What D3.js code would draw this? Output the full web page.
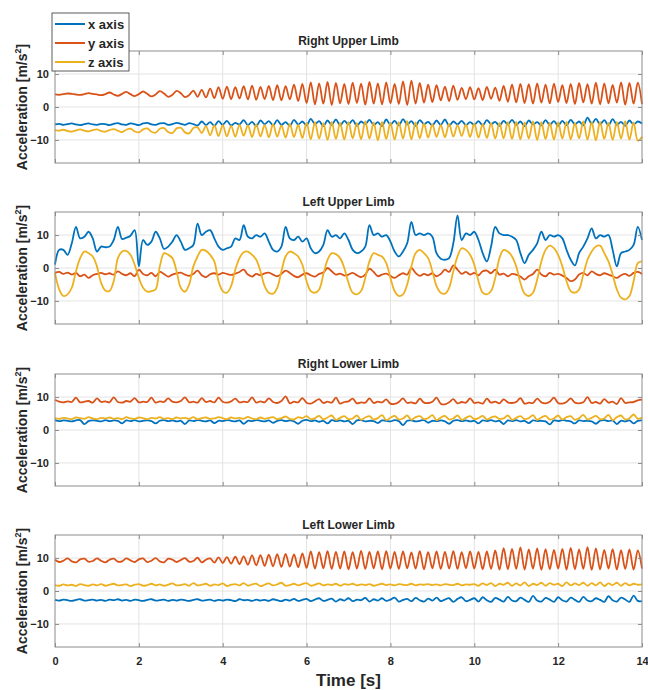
<!DOCTYPE html>
<html><head><meta charset="utf-8">
<script src="https://cdn.jsdelivr.net/npm/d3@7"></script>
<style>
body{margin:0;background:#fff}
svg{display:block}
text{font-family:"Liberation Sans",Arial,sans-serif;font-weight:bold;fill:#262626}
</style>
</head><body><svg id="chart" width="648" height="690"></svg>
<script>
// ---------- data ----------
const timeStep = 0.1;            // seconds between samples
const xTickValues = [0,2,4,6,8,10,12,14];
const yTickValues = [-10,0,10];
const yDomain = [-17,17];
const panelTitles = ["Right Upper Limb","Left Upper Limb","Right Lower Limb","Left Lower Limb"];
const seriesNames = ["x axis","y axis","z axis"];
const seriesColors = ["#0072BD","#D95319","#EDB120"];

// Right Upper Limb
const ruX = [-5.3,-5.1,-5.4,-5.2,-5.0,-5.3,-5.5,-5.2,-5.0,-5.3,
 -5.4,-5.1,-5.2,-5.5,-5.1,-4.9,-5.3,-5.4,-5.0,-5.2,
 -5.5,-5.0,-4.8,-5.3,-5.4,-5.0,-4.9,-5.4,-5.2,-4.8,
 -5.1,-5.4,-4.9,-5.2,-5.6,-4.4,-5.5,-4.6,-5.7,-4.3,
 -5.4,-4.2,-5.6,-4.8,-5.3,-4.0,-5.5,-4.5,-5.8,-4.1,
 -5.2,-4.3,-5.6,-4.0,-5.4,-4.6,-5.7,-3.9,-5.3,-4.4,
 -5.6,-3.6,-5.2,-4.3,-5.8,-4.1,-5.4,-3.8,-5.6,-4.2,
 -5.3,-4.0,-5.7,-4.4,-5.2,-3.9,-5.5,-4.6,-5.8,-3.8,
 -5.4,-4.2,-5.6,-3.7,-5.3,-4.3,-5.7,-4.0,-5.2,-4.5,
 -5.6,-4.1,-5.4,-3.8,-5.7,-4.4,-5.3,-4.2,-5.5,-4.6,
 -5.4,-4.3,-5.6,-4.0,-5.2,-4.5,-5.7,-4.2,-5.3,-3.9,
 -5.5,-4.4,-5.8,-4.1,-5.3,-4.6,-5.6,-4.0,-5.4,-4.3,
 -5.7,-4.2,-5.5,-3.9,-5.2,-4.4,-5.6,-3.2,-5.1,-3.6,
 -5.3,-4.0,-5.6,-3.7,-5.4,-4.5,-5.7,-4.1,-5.3,-4.4,
 -5.0];
const ruY = [3.8,3.7,3.9,4.1,4.0,3.8,3.7,3.9,4.2,4.0,
 3.8,3.6,3.9,4.4,3.8,3.4,4.0,4.6,3.9,3.3,
 3.9,4.7,4.0,3.2,3.8,4.8,4.1,3.1,3.7,4.9,
 4.2,3.0,3.6,5.0,3.1,5.2,2.9,5.6,2.7,6.0,
 2.5,6.2,2.4,6.0,2.6,6.3,2.3,6.5,2.2,6.1,
 2.4,6.4,2.1,6.6,2.0,6.3,2.3,6.8,1.8,7.0,
 1.2,7.5,0.8,7.2,1.0,7.6,0.6,7.3,1.1,7.0,
 0.9,7.4,1.2,7.1,0.7,7.6,1.0,7.2,0.8,7.5,
 1.1,7.0,0.9,7.8,0.6,8.0,1.0,7.3,1.3,6.8,
 1.5,6.6,2.0,6.2,1.8,6.5,2.2,5.8,2.4,6.0,
 2.3,5.7,2.1,6.1,2.5,5.9,1.9,6.4,1.6,6.8,
 1.4,7.0,1.2,6.9,1.0,7.2,1.3,6.8,1.1,7.1,
 1.5,6.6,1.2,7.0,0.9,7.3,1.4,6.9,1.0,7.4,
 0.8,7.2,1.1,6.7,1.3,7.5,0.7,7.3,1.0,7.4,
 0.9];
const ruZ = [-7.0,-7.2,-6.9,-7.3,-7.5,-7.1,-6.8,-7.2,-7.4,-7.0,
 -6.8,-7.3,-7.5,-7.0,-6.7,-7.2,-7.6,-6.9,-6.6,-7.4,
 -7.7,-6.8,-6.5,-7.5,-7.8,-6.6,-6.4,-7.6,-7.9,-6.5,
 -6.3,-7.7,-8.0,-6.4,-6.2,-7.9,-5.8,-8.6,-5.6,-8.8,
 -5.5,-8.9,-5.7,-9.0,-5.4,-8.7,-5.6,-9.1,-5.3,-8.9,
 -5.5,-9.2,-5.2,-9.0,-5.6,-9.3,-5.1,-9.1,-5.4,-9.4,
 -4.8,-9.8,-4.6,-9.6,-4.9,-10.0,-4.5,-9.7,-4.8,-9.9,
 -4.6,-9.5,-4.9,-9.8,-4.4,-9.6,-4.7,-10.1,-4.5,-9.7,
 -4.8,-9.9,-4.6,-9.6,-4.3,-9.8,-4.7,-9.5,-5.0,-9.3,
 -5.2,-9.1,-5.4,-9.2,-5.1,-9.0,-5.5,-8.8,-5.3,-9.1,
 -5.0,-9.3,-5.2,-9.4,-4.9,-9.6,-4.8,-9.5,-4.6,-9.7,
 -4.5,-9.8,-4.7,-9.6,-4.4,-10.0,-4.6,-9.7,-4.8,-9.9,
 -4.7,-9.6,-4.5,-9.8,-4.9,-9.5,-4.4,-9.9,-4.6,-10.1,
 -4.5,-9.7,-4.8,-10.0,-4.6,-9.6,-4.3,-9.9,-4.7,-10.2,
 -9.0];

// Left Upper Limb
const luX = [1.0,5.5,5.5,4.0,7.5,12.5,9.0,9.5,11.0,9.0,
 5.0,6.5,6.3,6.5,8.5,12.5,8.8,9.2,9.8,11.5,
 0.5,8.5,7.0,8.0,11.0,9.0,5.8,6.5,8.0,10.0,
 8.0,5.5,6.0,7.0,13.5,10.0,11.0,11.5,9.0,6.5,
 5.5,6.0,6.5,9.0,8.5,13.0,9.5,9.0,10.0,9.5,
 10.5,8.0,5.5,5.0,6.5,12.5,9.0,8.5,9.5,8.0,
 9.0,6.0,4.5,5.0,7.0,11.5,9.5,10.0,9.0,10.5,
 8.5,5.5,4.5,5.0,6.5,13.0,10.0,10.5,9.5,10.0,
 8.0,5.0,3.5,5.0,7.5,14.0,10.0,10.5,10.0,10.5,
 9.5,4.5,2.8,2.5,3.0,7.5,16.0,8.5,10.5,10.0,
 11.0,8.5,4.5,2.0,6.5,12.5,10.5,10.0,10.0,9.5,
 8.5,4.5,1.5,4.0,5.5,7.5,11.0,8.5,10.0,9.5,
 10.0,9.0,5.5,2.5,0.8,4.5,6.5,9.0,12.0,9.0,
 10.0,9.5,10.0,5.5,0.5,4.5,5.0,5.5,7.0,12.5,
 8.5];
const luY = [-1.5,-1.2,-1.8,-1.4,-2.0,-1.5,-2.5,-2.0,-3.0,-2.2,
 -1.8,-1.5,-1.9,-1.6,-2.0,-1.0,-1.8,-2.2,-1.6,-2.5,
 -0.5,-1.8,-2.2,-1.5,-2.5,-1.2,-1.8,-2.6,-2.0,-1.6,
 -1.4,-2.0,-2.4,-1.8,-0.8,-2.2,-2.8,-1.9,-1.6,-2.0,
 -1.5,-1.8,-2.1,-1.7,-1.2,-0.5,-2.0,-2.6,-1.8,-2.2,
 -1.6,-1.4,-2.0,-2.5,-1.8,-0.8,-1.5,-2.4,-2.8,-2.0,
 -1.6,-2.2,-2.6,-1.8,-1.4,0.0,-1.0,-2.0,-1.7,-2.3,
 -2.0,-1.5,-2.2,-2.8,-2.0,-0.2,-1.2,-2.5,-2.0,-1.7,
 -2.4,-3.0,-2.2,-1.6,-2.0,0.0,-1.5,-2.4,-1.8,-2.2,
 -1.6,-2.5,-1.8,-0.5,-1.2,0.8,-0.5,-1.8,-1.2,-2.0,
 -1.5,-2.2,-1.0,-0.8,-1.6,-0.5,-2.0,-1.7,-2.5,-1.8,
 -2.0,-2.6,-3.5,-2.5,-1.8,-0.5,-2.0,-2.5,-1.5,-2.0,
 -1.8,-2.3,-3.0,-4.0,-3.5,-2.0,-1.5,-2.2,-1.0,-1.8,
 -2.2,-1.6,-2.0,-2.5,-3.0,-2.2,-1.8,-2.4,-1.5,-1.2,
 -1.8];
const luZ = [-1.5,-6.5,-8.5,-8.0,-6.0,-1.0,3.0,5.0,4.5,3.5,
 0.5,-4.5,-6.8,-7.0,-4.0,3.0,5.0,5.2,4.0,1.0,
 -3.0,-6.0,-7.2,-7.0,-6.5,0.5,4.5,4.0,3.0,-1.0,
 -6.0,-7.2,-5.0,0.5,3.5,5.5,5.2,4.0,2.0,-4.0,
 -7.0,-7.5,-5.5,-0.5,3.0,4.8,5.0,4.0,2.5,-1.0,
 -5.5,-7.5,-7.8,-6.0,-1.0,3.5,5.0,4.5,3.5,1.0,
 -4.0,-7.0,-7.5,-6.5,-2.0,2.5,4.5,4.2,3.0,0.0,
 -4.5,-7.5,-8.0,-7.0,-3.0,2.0,4.5,4.0,3.5,1.5,
 -3.0,-7.0,-8.5,-8.0,-5.0,0.5,4.5,5.5,4.5,3.0,
 -1.0,-5.5,-7.5,-7.8,-6.0,-1.0,3.5,6.0,5.5,4.0,
 1.0,-4.0,-7.5,-8.0,-7.0,-3.0,3.0,5.5,5.0,3.5,
 0.5,-4.5,-7.8,-8.5,-7.5,-3.5,2.0,5.5,6.8,6.0,
 4.0,0.5,-4.0,-7.0,-7.5,-6.5,-2.0,2.5,5.0,6.5,
 6.8,4.5,2.0,-2.0,-6.5,-9.0,-9.5,-8.5,-4.0,1.5,
 2.0];

// Right Lower Limb
const rlX = [3.0,2.7,2.9,2.8,2.6,2.9,3.0,1.8,2.7,2.9,
 2.8,2.6,3.0,2.7,2.9,2.8,2.0,2.9,2.7,3.0,
 2.6,2.8,2.9,2.7,2.0,2.8,3.0,2.7,2.9,2.6,
 2.8,1.8,2.9,2.7,3.0,2.8,2.6,2.9,2.1,2.8,
 2.7,3.0,2.8,2.6,2.9,1.9,2.8,2.7,3.0,2.8,
 2.6,2.9,2.2,2.8,3.0,2.7,2.9,2.6,1.9,2.8,
 3.1,2.7,2.9,2.5,2.8,2.0,3.0,2.7,2.9,2.6,
 2.8,1.8,2.9,3.0,2.6,2.8,2.7,2.1,2.9,2.8,
 2.6,3.0,2.7,1.5,2.8,2.9,2.6,2.8,3.0,2.2,
 2.8,2.7,2.9,2.6,1.9,2.8,3.0,2.7,2.9,2.6,
 2.8,2.0,2.9,2.7,3.0,2.6,2.8,1.8,2.9,2.7,
 3.0,2.6,2.8,2.1,2.9,2.7,2.8,2.6,1.7,2.9,
 2.7,3.0,2.8,2.6,2.0,2.9,2.7,2.8,2.6,1.9,
 2.8,3.0,2.7,2.9,1.8,2.8,2.6,2.9,2.0,2.8,
 2.9];
const rlY = [9.2,8.6,8.4,8.7,8.5,9.8,8.4,8.6,8.8,8.3,
 9.6,8.5,8.7,8.4,9.9,8.5,8.3,8.8,8.6,9.7,
 8.4,8.6,8.5,9.8,8.3,8.7,8.5,9.6,8.6,8.4,
 8.8,9.9,8.4,8.6,8.3,9.7,8.5,8.8,8.4,9.8,
 8.6,8.3,8.7,9.5,8.4,8.6,8.5,9.9,8.3,8.7,
 8.4,9.6,8.5,8.2,8.8,10.2,8.1,8.6,8.4,9.7,
 8.3,8.0,8.7,9.4,8.2,8.6,8.3,9.8,8.0,8.5,
 8.7,9.5,8.1,8.4,8.3,9.6,8.2,8.6,8.4,9.3,
 8.0,7.9,8.5,9.6,8.2,8.4,8.1,9.5,8.3,8.2,
 8.6,9.8,8.0,7.8,8.4,9.4,8.1,8.5,8.3,9.6,
 8.2,8.4,8.0,9.5,8.3,8.6,8.1,9.3,8.4,8.2,
 8.5,9.7,8.0,8.3,8.2,9.5,8.4,8.1,8.6,9.8,
 8.2,8.0,8.5,9.6,8.3,8.1,8.4,10.0,8.2,8.5,
 8.0,9.4,8.3,8.6,7.9,9.7,8.2,8.4,8.5,9.0,
 9.2];
const rlZ = [3.6,3.4,3.7,3.5,3.3,3.8,3.6,3.4,3.9,3.5,
 3.3,3.7,3.5,3.8,3.4,3.6,3.3,3.9,3.5,3.4,
 3.8,3.6,3.3,3.7,3.5,3.9,3.4,3.6,3.3,3.8,
 3.5,3.7,3.4,3.9,3.3,3.6,3.8,3.4,3.5,3.9,
 3.6,3.3,3.8,3.5,3.7,3.4,4.0,3.5,3.3,3.8,
 3.4,3.7,3.9,3.3,3.6,4.1,3.4,3.2,3.9,3.6,
 4.2,3.3,3.6,4.3,3.2,3.8,4.4,3.1,3.7,4.2,
 3.3,3.5,4.4,3.1,3.8,4.2,3.2,3.6,4.5,3.0,
 3.7,4.3,3.2,3.5,4.4,3.1,3.9,4.2,3.3,3.6,
 4.5,3.0,3.8,4.3,3.2,3.5,4.4,3.1,3.7,4.2,
 3.3,3.6,4.3,3.2,3.8,4.1,3.4,3.5,4.4,3.1,
 3.7,4.2,3.3,3.6,4.5,3.1,3.8,4.3,3.2,3.5,
 4.4,3.2,3.9,4.2,3.1,3.6,4.6,3.2,3.7,4.3,
 3.3,3.5,4.6,3.0,3.9,4.4,3.2,3.6,4.7,3.4,
 3.8];

// Left Lower Limb
const llX = [-2.7,-2.9,-2.6,-2.8,-3.0,-2.7,-2.5,-2.9,-2.8,-2.6,
 -2.9,-2.7,-3.0,-2.6,-2.8,-2.5,-2.9,-2.7,-3.0,-2.6,
 -2.8,-3.0,-2.7,-2.5,-2.9,-2.8,-2.6,-3.0,-2.7,-2.9,
 -2.6,-2.8,-3.0,-2.7,-2.5,-2.9,-2.8,-2.6,-3.0,-2.7,
 -2.9,-2.6,-2.8,-3.1,-2.5,-2.8,-2.7,-3.0,-2.6,-2.9,
 -2.7,-3.0,-2.5,-2.8,-3.1,-2.6,-2.9,-2.4,-3.0,-2.7,
 -2.4,-3.1,-2.6,-2.2,-3.0,-2.7,-2.3,-3.2,-2.5,-2.9,
 -2.2,-3.1,-2.6,-2.8,-2.1,-3.2,-2.5,-2.9,-2.2,-3.0,
 -2.6,-2.0,-3.2,-2.7,-2.4,-3.1,-2.1,-2.8,-3.2,-2.3,
 -2.9,-2.0,-3.1,-2.6,-2.2,-3.3,-2.4,-1.9,-3.1,-2.7,
 -2.2,-3.2,-1.9,-2.8,-3.3,-2.1,-2.6,-3.2,-1.8,-2.9,
 -3.1,-2.0,-2.7,-3.3,-1.5,-2.9,-3.2,-2.1,-2.6,-3.3,
 -1.9,-2.8,-3.2,-2.0,-2.7,-3.3,-1.8,-2.9,-3.1,-2.2,
 -2.7,-3.3,-1.6,-2.8,-3.2,-2.0,-2.6,-3.3,-1.4,-3.0,
 -3.1];
const llY = [9.5,8.8,9.2,9.9,9.0,8.7,9.6,9.8,8.9,9.1,
 9.9,9.2,8.7,9.5,9.8,8.9,9.0,9.9,9.3,8.8,
 9.6,9.9,8.8,9.2,10.0,9.0,8.7,9.8,9.5,8.8,
 9.4,10.0,8.9,9.1,10.1,8.7,9.5,9.9,8.6,10.2,
 8.5,10.3,8.3,10.4,8.2,10.5,8.0,10.8,7.8,10.9,
 7.6,11.0,7.5,11.2,7.3,11.3,7.4,11.1,7.2,11.4,
 7.0,12.0,6.8,11.8,6.9,12.1,6.7,11.9,6.8,12.0,
 6.6,11.8,6.8,12.2,6.7,11.9,6.9,12.0,6.6,12.1,
 6.8,11.9,6.7,12.0,6.9,11.7,6.8,12.1,6.6,11.8,
 6.9,12.0,6.7,11.9,6.8,12.1,6.7,11.8,6.9,12.0,
 6.8,11.9,6.6,12.0,6.7,12.3,6.5,13.0,6.6,12.8,
 6.7,13.2,6.5,12.6,6.8,12.9,6.4,12.7,6.6,12.5,
 6.8,12.8,6.5,13.1,6.6,12.6,6.7,13.3,6.4,12.9,
 6.6,12.5,6.8,12.7,6.5,12.4,6.7,12.6,6.5,12.3,
 6.8];
const llZ = [1.8,1.6,2.0,1.7,1.9,1.5,2.1,1.8,1.6,2.0,
 1.7,2.1,1.6,1.9,2.2,1.7,1.8,2.0,1.5,1.9,
 2.1,1.6,1.8,2.2,1.7,2.0,1.6,1.9,2.3,1.7,
 1.8,2.1,1.6,2.4,1.7,1.9,2.2,1.6,2.0,1.8,
 2.3,1.5,1.9,2.1,1.7,2.4,1.6,2.0,2.2,1.5,
 1.9,2.3,1.7,2.0,2.5,1.6,1.8,2.2,1.7,2.1,
 2.4,1.6,1.9,2.3,1.7,2.0,1.8,2.2,1.6,2.1,
 1.9,2.2,1.7,2.0,1.8,2.1,1.6,1.9,2.2,1.8,
 2.0,1.7,2.1,1.9,1.8,2.2,1.7,2.0,1.9,2.1,
 1.8,2.0,1.7,2.1,1.9,1.8,2.2,1.7,2.0,1.9,
 2.1,1.6,2.3,1.8,2.4,1.5,2.2,1.9,2.5,1.6,
 2.3,1.7,2.6,1.5,2.2,1.8,2.5,1.6,2.4,1.9,
 2.2,1.5,2.6,1.7,2.3,1.8,2.5,1.6,2.4,1.7,
 2.6,1.5,2.3,1.8,2.5,1.6,2.4,1.7,2.2,1.9,
 2.0];

const panelSeries = [[ruX,ruY,ruZ],[luX,luY,luZ],[rlX,rlY,rlZ],[llX,llY,llZ]];

// ---------- layout ----------
const svg = d3.select("#chart");
const left = 55, right = 642, panelH = 112;
const panelTops = [51, 212, 374, 535];
const frameColor = "#8c8c8c";
const gridColor = "#e3e3e3";

const x = d3.scaleLinear().domain([0,14]).range([left,right]);

panelTops.forEach((top, p) => {
  const y = d3.scaleLinear().domain(yDomain).range([top+panelH, top]);
  const g = svg.append("g");

  // grid
  g.append("g").selectAll("line").data(xTickValues.filter(v=>v>0&&v<14)).join("line")
    .attr("x1", d=>x(d)).attr("x2", d=>x(d)).attr("y1", top).attr("y2", top+panelH)
    .attr("stroke", gridColor).attr("stroke-width", 1);
  g.append("g").selectAll("line").data(yTickValues).join("line")
    .attr("x1", left).attr("x2", right).attr("y1", d=>y(d)).attr("y2", d=>y(d))
    .attr("stroke", gridColor).attr("stroke-width", 1);

  // series
  const line = d3.line().x((d,i)=>x(i*timeStep)).y(d=>y(d)).curve(d3.curveCatmullRom.alpha(0.5));
  panelSeries[p].forEach((vals, s) => {
    g.append("path").datum(vals).attr("d", line)
      .attr("fill","none").attr("stroke", seriesColors[s])
      .attr("stroke-width", 1.8).attr("stroke-linejoin","round");
  });

  // frame
  g.append("rect").attr("x", left).attr("y", top).attr("width", right-left).attr("height", panelH)
    .attr("fill","none").attr("stroke", frameColor).attr("stroke-width", 1);

  // axes (inward ticks)
  g.append("g").attr("transform", `translate(${left},0)`)
    .call(d3.axisLeft(y).tickValues(yTickValues).tickSizeInner(-4).tickSizeOuter(0).tickPadding(6));
  g.append("g").attr("transform", `translate(${right},0)`)
    .call(d3.axisRight(y).tickValues(yTickValues).tickSizeInner(-4).tickSizeOuter(0).tickFormat(""));
  g.append("g").attr("transform", `translate(0,${top+panelH})`)
    .call(d3.axisBottom(x).tickValues(xTickValues).tickSizeInner(-4).tickSizeOuter(0).tickPadding(10)
      .tickFormat(p===3 ? d3.format("d") : ""));
  g.append("g").attr("transform", `translate(0,${top})`)
    .call(d3.axisTop(x).tickValues(xTickValues).tickSizeInner(-4).tickSizeOuter(0).tickFormat(""));
  g.selectAll(".domain").remove();
  g.selectAll(".tick line").attr("stroke", frameColor);
  g.selectAll(".tick text").attr("font-size", 11).attr("font-family", null).attr("fill", "#262626");

  // title
  g.append("text").attr("x", (left+right)/2).attr("y", top-6)
    .attr("text-anchor","middle").attr("font-size", 12).text(panelTitles[p]);

  // y label
  const yl = g.append("text").attr("transform", `translate(27,${top+panelH/2}) rotate(-90)`)
    .attr("text-anchor","middle").attr("font-size", 14);
  yl.append("tspan").text("Acceleration [m/s");
  yl.append("tspan").attr("font-size", 9).attr("dy", -6).text("2");
  yl.append("tspan").attr("dy", 6).text("]");
});

// x label
svg.append("text").attr("x", (left+right)/2).attr("y", 686)
  .attr("text-anchor","middle").attr("font-size", 17).text("Time [s]");

// legend
const lg = svg.append("g");
lg.append("rect").attr("x", 52).attr("y", 13).attr("width", 77).attr("height", 58)
  .attr("fill","#fff").attr("stroke","#333").attr("stroke-width", 0.8);
seriesNames.forEach((name, i) => {
  const cy = 24 + i*19;
  lg.append("line").attr("x1", 55).attr("x2", 85).attr("y1", cy).attr("y2", cy)
    .attr("stroke", seriesColors[i]).attr("stroke-width", 2);
  lg.append("text").attr("x", 88).attr("y", cy+4.5).attr("font-size", 13).text(name);
});
</script>
</body></html>
